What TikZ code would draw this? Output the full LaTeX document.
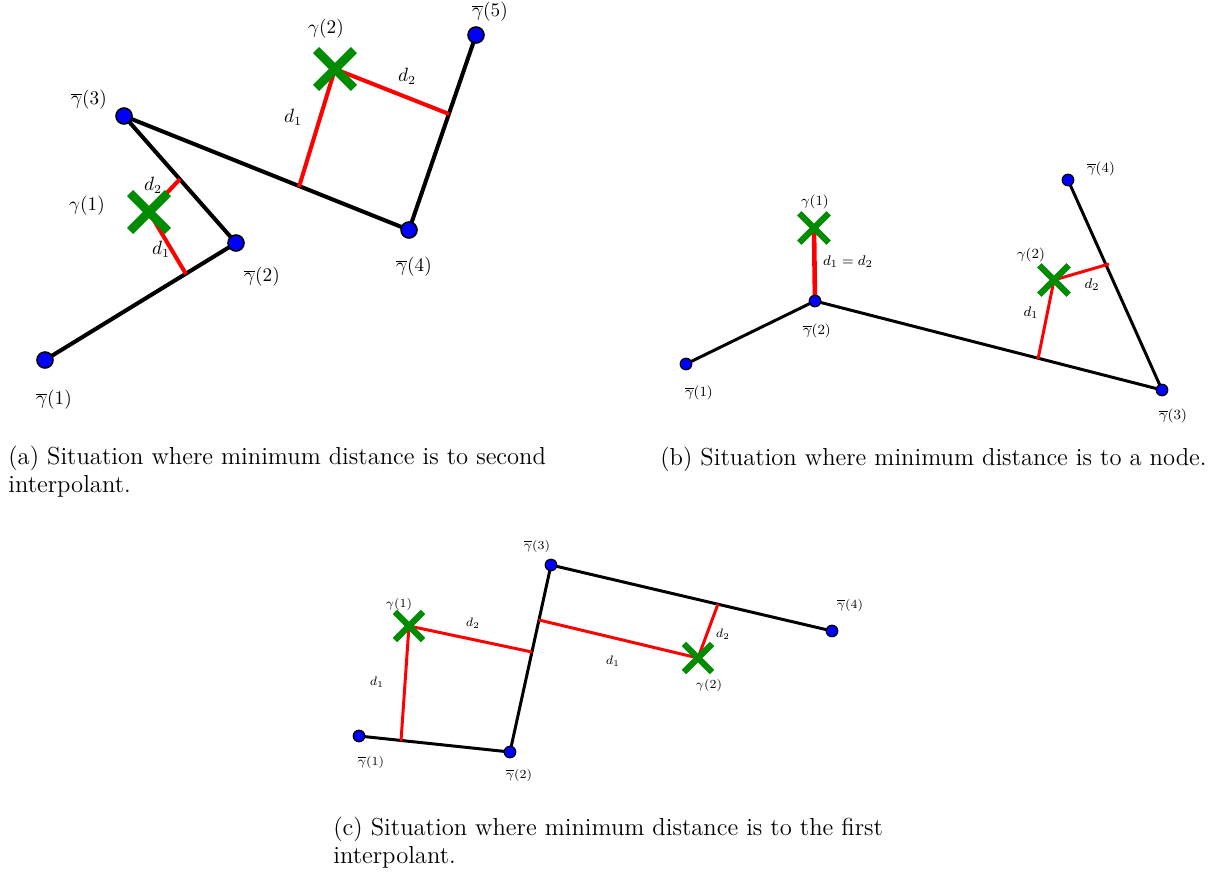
\documentclass[tikz,border=0pt]{standalone}
\usetikzlibrary{shapes.misc,backgrounds}
\definecolor{nodeblue}{RGB}{0,0,255}
\definecolor{xgreen}{RGB}{0,140,0}
\definecolor{dred}{RGB}{255,0,0}
\newcommand{\gb}[1]{$\overline{\gamma}(#1)$}
\begin{document}
\begin{tikzpicture}[x=0.02cm,y=-0.02cm,
  ptA/.style={circle,fill=nodeblue,draw=black,line width=0.9pt,inner sep=0pt,minimum size=0.32cm},
  ptB/.style={circle,fill=nodeblue,draw=black,line width=0.7pt,inner sep=0pt,minimum size=0.23cm},
  segA/.style={line width=2.3pt,black},
  segB/.style={line width=1.7pt,black},
  redA/.style={line width=2.3pt,dred},
  redB/.style={line width=1.7pt,dred},
  xmA/.style={cross out,draw=xgreen,line width=5pt,inner sep=0pt,minimum size=0.58cm},
  xmB/.style={cross out,draw=xgreen,line width=3.6pt,inner sep=0pt,minimum size=0.46cm},
  xmC/.style={cross out,draw=xgreen,line width=3.5pt,inner sep=0pt,minimum size=0.44cm},
  labA/.style={font=\fontsize{10.5}{12}\selectfont,inner sep=0pt},
  labB/.style={font=\fontsize{8}{9.6}\selectfont,inner sep=0pt},
  labC/.style={font=\fontsize{7.5}{9}\selectfont,inner sep=0pt},
  capt/.style={font=\fontsize{14}{15.4}\selectfont,align=left,anchor=base west,inner sep=0pt}
]
\useasboundingbox (0,0) rectangle (1220,875);

% ---------------- panel (a)
\node[ptA] (a1) at (45,360) {};
\node[ptA] (a2) at (236,243) {};
\node[ptA] (a3) at (124,116) {};
\node[ptA] (a4) at (409,230) {};
\node[ptA] (a5) at (476,35) {};
\coordinate (ac1) at (149,212);
\coordinate (ac2) at (335,69);
\coordinate (af1) at (186,274);
\coordinate (af2) at (180,179);
\coordinate (af3) at (299,187);
\coordinate (af4) at (449,114);
\begin{scope}[on background layer]
  \draw[segA] (a1.center) -- (a2.center) -- (a3.center) -- (a4.center) -- (a5.center);
  \draw[redA] (ac1) -- (af1);
  \draw[redA] (ac1) -- (af2);
  \draw[redA] (ac2) -- (af3);
  \draw[redA] (ac2) -- (af4);
\end{scope}
\node[xmA] (ax1) at (ac1) {};
\node[xmA] (ax2) at (ac2) {};
\node[labA] (la1) at (54,400) {\gb{1}};
\node[labA] (la2) at (262,277) {\gb{2}};
\node[labA] (la3) at (89,100) {\gb{3}};
\node[labA] (la4) at (414,267) {\gb{4}};
\node[labA] (la5) at (490,12) {\gb{5}};
\node[labA] (lag1) at (87,206) {$\gamma(1)$};
\node[labA] (lag2) at (326,29) {$\gamma(2)$};
\node[labA] (lad1) at (153,185) {$d_2$};
\node[labA] (lad2) at (161,249) {$d_1$};
\node[labA] (lad3) at (293,117) {$d_1$};
\node[labA] (lad4) at (407,76) {$d_2$};

% ---------------- panel (b)
\node[ptB] (b1) at (686,364) {};
\node[ptB] (b2) at (815,301) {};
\node[ptB] (b3) at (1162,390) {};
\node[ptB] (b4) at (1068,180) {};
\coordinate (bc1) at (814,228);
\coordinate (bc2) at (1054,280);
\coordinate (bf1) at (1038,359);
\coordinate (bf2) at (1109,264);
\begin{scope}[on background layer]
  \draw[segB] (b1.center) -- (b2.center) -- (b3.center) -- (b4.center);
  \draw[dred,line width=2.6pt] (bc1) -- (b2.center);
  \draw[redB] (bc2) -- (bf1);
  \draw[redB] (bc2) -- (bf2);
\end{scope}
\node[xmB] (bx1) at (bc1) {};
\node[xmB] (bx2) at (bc2) {};
\node[labB] (lb1) at (699,393) {\gb{1}};
\node[labB] (lb2) at (817,331) {\gb{2}};
\node[labB] (lb3) at (1173,416) {\gb{3}};
\node[labB] (lb4) at (1101,169) {\gb{4}};
\node[labB] (lbg1) at (815,202) {$\gamma(1)$};
\node[labB] (lbg2) at (1031,255) {$\gamma(2)$};
\node[labB] (lbd0) at (848,262) {$d_1=d_2$};
\node[labB] (lbd1) at (1031,313) {$d_1$};
\node[labB] (lbd2) at (1092,285) {$d_2$};

% ---------------- panel (c)
\node[ptB] (c1) at (359,736) {};
\node[ptB] (c2) at (510,752) {};
\node[ptB] (c3) at (551,565) {};
\node[ptB] (c4) at (832,631) {};
\coordinate (cc1) at (409,626);
\coordinate (cc2) at (698,658);
\coordinate (cf1) at (401,741);
\coordinate (cf2) at (532,652);
\coordinate (cf3) at (539,620);
\coordinate (cf4) at (718,604);
\begin{scope}[on background layer]
  \draw[segB] (c1.center) -- (c2.center) -- (c3.center) -- (c4.center);
  \draw[redB] (cc1) -- (cf1);
  \draw[redB] (cc1) -- (cf2);
  \draw[redB] (cc2) -- (cf3);
  \draw[redB] (cc2) -- (cf4);
\end{scope}
\node[xmC] (cx1) at (cc1) {};
\node[xmC] (cx2) at (cc2) {};
\node[labC] (lc1) at (371,762) {\gb{1}};
\node[labC] (lc2) at (519,775) {\gb{2}};
\node[labC] (lc3) at (537,546) {\gb{3}};
\node[labC] (lc4) at (850,605) {\gb{4}};
\node[labC] (lcg1) at (399,604) {$\gamma(1)$};
\node[labC] (lcg2) at (709,685) {$\gamma(2)$};
\node[labC] (lcd1) at (377,682) {$d_1$};
\node[labC] (lcd2) at (473,623) {$d_2$};
\node[labC] (lcd3) at (613,661) {$d_1$};
\node[labC] (lcd4) at (723,634) {$d_2$};

% ---------------- captions (base = last line)
\node[capt] (capa) at (8,492) {(a) Situation where minimum distance is to second\\interpolant.};
\node[capt] (capb) at (660,465) {(b) Situation where minimum distance is to a node.};
\node[capt] (capc) at (333,863) {(c) Situation where minimum distance is to the first\\interpolant.};
\end{tikzpicture}
\end{document}
